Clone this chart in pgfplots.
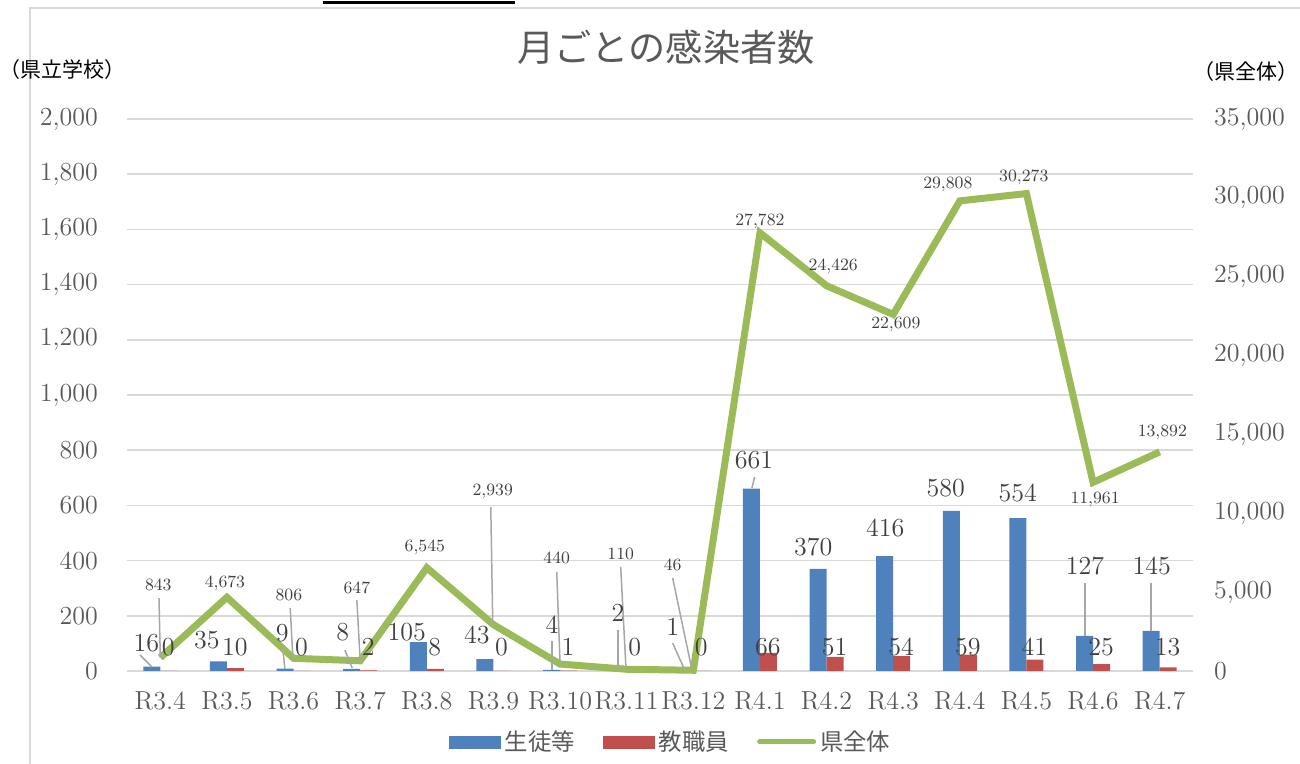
\documentclass[border=0pt]{standalone}
\usepackage{fontspec}
\usepackage{pgfplots}
\usepackage{pgfplotstable}
\pgfplotsset{compat=1.18}
\newfontfamily\jp{Noto Sans CJK JP}
\definecolor{blue1}{HTML}{4F81BD}
\definecolor{red1}{HTML}{C0504D}
\definecolor{green1}{HTML}{9BBB59}
\definecolor{gridc}{HTML}{D9D9D9}
\definecolor{textc}{HTML}{595959}
\definecolor{labc}{HTML}{404040}
\definecolor{leaderc}{HTML}{A6A6A6}

\pgfplotstableread{
x y
0 16
1 35
2 9
3 8
4 105
5 43
6 4
7 2
8 1
9 661
10 370
11 416
12 580
13 554
14 127
15 145
}\students
\pgfplotstableread{
x y
0 0
1 10
2 0
3 2
4 8
5 0
6 1
7 0
8 0
9 66
10 51
11 54
12 59
13 41
14 25
15 13
}\staff
\pgfplotstableread{
x y
0 843
1 4673
2 806
3 647
4 6545
5 2939
6 440
7 110
8 46
9 27782
10 24426
11 22609
12 29808
13 30273
14 11961
15 13892
}\pref
\pgfplotstableread{
x y t
-0.21 101 16
0.70 112 35
1.83 138 9
2.74 141 8
3.70 141 105
4.75 130 43
5.88 167 4
6.87 210 2
7.69 159 1
8.91 764 661
9.80 449 370
10.88 518 416
11.79 663 580
12.87 645 554
13.88 380 127
14.88 380 145
}\blueLab
\pgfplotstableread{
x y t
0.12 87 0
1.12 87 10
2.12 87 0
3.12 87 2
4.12 87 8
5.12 87 0
6.12 87 1
7.12 87 0
8.12 87 0
9.12 87 66
10.12 87 51
11.12 87 54
12.12 87 59
13.12 87 41
14.12 87 25
15.12 87 13
}\redLab
\pgfplotstableread{
x y t
-0.03 312 843
0.97 319 4,673
1.93 275 806
2.95 301 647
3.97 449 6,545
4.99 649 2,939
5.95 409 440
6.91 424 110
7.69 384 46
9.00 1630 27,782
10.10 1467 24,426
11.04 1254 22,609
11.82 1764 29,808
12.96 1790 30,273
14.03 620 11,961
15.04 866 13,892
}\greenLab

\newcommand{\leader}[4]{\addplot[leaderc, line width=0.75pt] coordinates {(#1,#2) (#3,#4)};}

\pgfplotsset{
  base/.style={
    at={(63.5pt,46.5pt)}, anchor=south west,
    scale only axis, width=533pt, height=276pt,
    xmin=-0.5, xmax=15.5,
    axis line style={draw=none},
    major tick length=0pt,
    tick style={draw=none},
    tick label style={text=textc, font=\fontsize{13}{15}\selectfont},
    /pgf/number format/assume math mode=true,
    /pgf/number format/1000 sep={,},
    clip=false,
  }
}

\begin{document}
\begin{tikzpicture}
\useasboundingbox (0,0) rectangle (650pt,382pt);
\draw[gridc, line width=1pt] (15pt,0) -- (15pt,378pt) -- (650pt,378pt);
\draw[black, line width=1.5pt] (161.5pt,380.5pt) -- (257.5pt,380.5pt);

% left axis: bars, grid, category ticks
\begin{axis}[base,
  ymin=0, ymax=2000, ytick={0,200,...,2000},
  ymajorgrids, grid style={gridc, line width=0.75pt},
  xtick={0,...,15},
  xticklabels={R3.4,R3.5,R3.6,R3.7,R3.8,R3.9,R3.10,R3.11,R3.12,R4.1,R4.2,R4.3,R4.4,R4.5,R4.6,R4.7},
  yticklabel style={xshift=-11pt},
  xticklabel style={yshift=-7pt},
]
\addplot[ybar, bar width=8.5pt, bar shift=-4.25pt, fill=blue1, draw=none] table {\students};
\addplot[ybar, bar width=8.5pt, bar shift=4.25pt, fill=red1, draw=none] table {\staff};
\end{axis}

% right axis: prefecture line and legend
\begin{axis}[base,
  ymin=0, ymax=35000, ytick={0,5000,...,35000},
  axis y line*=right, axis x line=none,
  scaled y ticks=false,
  yticklabel style={anchor=west, xshift=7pt},
  legend columns=3,
  legend style={at={(0.511,-0.1286)}, anchor=center, draw=none, fill=none,
    font=\jp\fontsize{11.7}{14}\selectfont, text=textc,
    /tikz/every even column/.append style={column sep=12pt}},
]
\addplot[green1, line width=3.5pt, forget plot] table {\pref};
\addlegendimage{legend image code/.code={\fill[blue1] (0pt,-3pt) rectangle (25.5pt,3pt);}}
\addlegendentry{生徒等}
\addlegendimage{legend image code/.code={\fill[red1] (0pt,-3pt) rectangle (25.5pt,3pt);}}
\addlegendentry{教職員}
\addlegendimage{legend image code/.code={\draw[green1, line width=2.5pt, line cap=round] (0pt,0pt) -- (27pt,0pt);}}
\addlegendentry{県全体}
\end{axis}

% overlay (left-axis units): data labels and leader lines on top
\begin{axis}[base, hide axis, ymin=0, ymax=2000]
\leader{-0.305}{58}{-0.125}{14.5}
\leader{1.84}{76}{1.87}{7}
\leader{2.77}{76}{2.88}{11}
\leader{5.88}{109}{5.88}{4}
\leader{6.87}{149}{6.87}{7}
\leader{7.69}{101}{7.87}{4}
\leader{8.92}{703}{8.88}{663}
\leader{13.88}{319}{13.88}{127}
\leader{14.87}{319}{14.87}{145}
\leader{-0.02}{264}{0}{48}
\leader{1.95}{228}{1.99}{46}
\leader{2.95}{257}{3.0}{37}
\leader{4.96}{594}{4.99}{168}
\leader{5.95}{359}{6.0}{25}
\leader{6.91}{377}{6.99}{6}
\leader{7.69}{337}{7.98}{3}
\addplot[draw=none, nodes near coords, point meta=explicit symbolic,
  every node near coord/.append style={anchor=center, inner sep=0pt, text=labc, font=\fontsize{13}{15}\selectfont}]
  table[meta=t] {\blueLab};
\addplot[draw=none, nodes near coords, point meta=explicit symbolic,
  every node near coord/.append style={anchor=center, inner sep=0pt, text=labc, font=\fontsize{13}{15}\selectfont}]
  table[meta=t] {\redLab};
\addplot[draw=none, nodes near coords, point meta=explicit symbolic,
  every node near coord/.append style={anchor=center, inner sep=0pt, text=labc, font=\fontsize{8.6}{10}\selectfont}]
  table[meta=t] {\greenLab};
\end{axis}

\node[text=textc, font=\jp\fontsize{18.6}{22}\selectfont] at (333pt,358.5pt) {月ごとの感染者数};
\node[text=black, font=\jp\fontsize{10.5}{12}\selectfont] at (31pt,347pt) {（県立学校）};
\node[text=black, font=\jp\fontsize{10.5}{12}\selectfont] at (623pt,346pt) {（県全体）};
\end{tikzpicture}
\end{document}
